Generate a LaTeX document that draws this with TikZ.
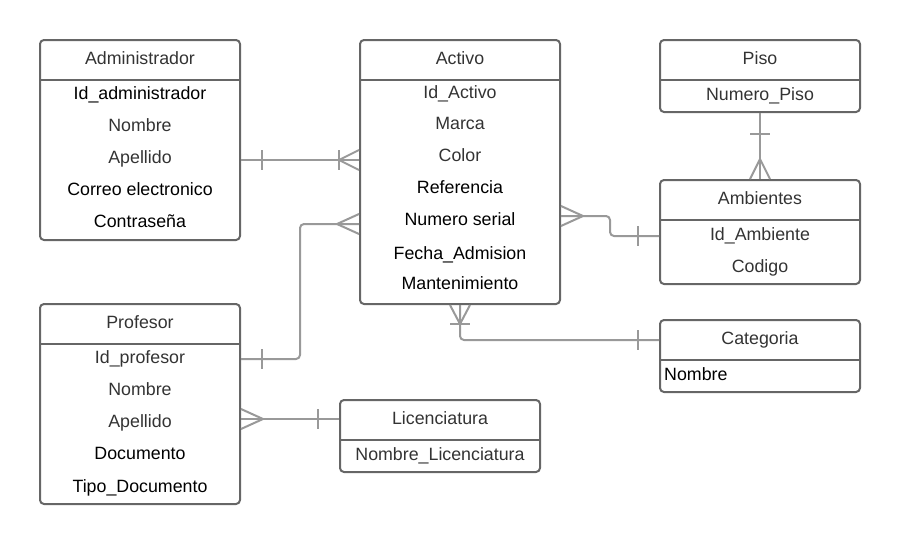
\documentclass[tikz,border=0pt]{standalone}
\usepackage{fontspec}
\setmainfont{Liberation Sans}
\definecolor{boxgray}{HTML}{666666}
\definecolor{linegray}{HTML}{999999}
\definecolor{txtgray}{HTML}{333333}

\begin{document}
\begin{tikzpicture}[x=1pt,y=-1pt,
    entity/.style={draw=boxgray, line width=2pt, rounded corners=4pt, minimum width=200pt, inner sep=0pt},
    sep/.style={draw=boxgray, line width=2pt},
    attr/.style={text=txtgray, font=\fontsize{17.8}{20}\selectfont, text height=13pt, text depth=0pt, inner sep=0pt},
    key/.style={attr, text=black},
    rel/.style={draw=linegray, line width=2pt, rounded corners=4pt},
    relmark/.style={draw=linegray, line width=2pt}]
  \useasboundingbox (0,0) rectangle (900,544);

    \node[entity, minimum height=200pt] (admin) at (140,140) {};
    \draw[sep] (40,80) -- (240,80);
    \node[attr] (admin-t) at (140,58) {Administrador};
    \node[key] (admin-1) at (140,93) {Id\_administrador};
    \node[attr] (admin-2) at (140,125) {Nombre};
    \node[attr] (admin-3) at (140,157) {Apellido};
    \node[key] (admin-4) at (140,189) {Correo electronico};
    \node[key] (admin-5) at (140,221) {Contraseña};

    \node[entity, minimum height=264pt] (activo) at (460,172) {};
    \draw[sep] (360,80) -- (560,80);
    \node[attr] (activo-t) at (460,58) {Activo};
    \node[attr] (activo-1) at (460,92) {Id\_Activo};
    \node[attr] (activo-2) at (460,123) {Marca};
    \node[attr] (activo-3) at (460,155) {Color};
    \node[key] (activo-4) at (460,187) {Referencia};
    \node[key] (activo-5) at (460,219) {Numero serial};
    \node[key] (activo-6) at (460,253) {Fecha\_Admision};
    \node[key] (activo-7) at (460,283) {Mantenimiento};

    \node[entity, minimum height=72pt] (piso) at (760,76) {};
    \draw[sep] (660,80) -- (860,80);
    \node[attr] (piso-t) at (760,58) {Piso};
    \node[attr] (piso-1) at (760,94) {Numero\_Piso};

    \node[entity, minimum height=104pt] (ambientes) at (760,232) {};
    \draw[sep] (660,220) -- (860,220);
    \node[attr] (ambientes-t) at (760,198) {Ambientes};
    \node[attr] (ambientes-1) at (760,234) {Id\_Ambiente};
    \node[attr] (ambientes-2) at (760,266) {Codigo};

    \node[entity, minimum height=200pt] (profesor) at (140,404) {};
    \draw[sep] (40,344) -- (240,344);
    \node[attr] (profesor-t) at (140,322) {Profesor};
    \node[attr] (profesor-1) at (140,357) {Id\_profesor};
    \node[attr] (profesor-2) at (140,389) {Nombre};
    \node[attr] (profesor-3) at (140,421) {Apellido};
    \node[key] (profesor-4) at (140,453) {Documento};
    \node[key] (profesor-5) at (140,486) {Tipo\_Documento};

    \node[entity, minimum height=72pt] (licenciatura) at (440,436) {};
    \draw[sep] (340,440) -- (540,440);
    \node[attr] (licenciatura-t) at (440,418) {Licenciatura};
    \node[attr] (licenciatura-1) at (440,454) {Nombre\_Licenciatura};

    \node[entity, minimum height=72pt] (categoria) at (760,356) {};
    \draw[sep] (660,360) -- (860,360);
    \node[attr] (categoria-t) at (760,338) {Categoria};
    \node[key, anchor=west] (categoria-1) at (664,374) {Nombre};

    \draw[rel] (admin.east |- 0,160) coordinate (r1a) -- (activo.west |- 0,160) coordinate (r1b);
    \draw[relmark] ([xshift=21pt,yshift=10pt]r1a) -- ([xshift=21pt,yshift=-10pt]r1a);
    \draw[relmark] ([yshift=10pt]r1b) -- ([xshift=-20pt]r1b) -- ([yshift=-10pt]r1b);
    \draw[relmark] ([xshift=-20pt,yshift=10pt]r1b) -- ([xshift=-20pt,yshift=-10pt]r1b);

    \draw[rel] (profesor.east |- 0,359) coordinate (r2a) -- (300,359) -- (300,224) -- (activo.west |- 0,224) coordinate (r2b);
    \draw[relmark] ([xshift=21pt,yshift=10pt]r2a) -- ([xshift=21pt,yshift=-10pt]r2a);
    \draw[relmark] ([yshift=10pt]r2b) -- ([xshift=-22pt]r2b) -- ([yshift=-10pt]r2b);

    \draw[rel] (activo.east |- 0,216) coordinate (r3a) -- (610,216) -- (610,236) -- (ambientes.west |- 0,236) coordinate (r3b);
    \draw[relmark] ([yshift=10pt]r3a) -- ([xshift=22pt]r3a) -- ([yshift=-10pt]r3a);
    \draw[relmark] ([xshift=-21pt,yshift=10pt]r3b) -- ([xshift=-21pt,yshift=-10pt]r3b);

    \draw[rel] (piso.south) coordinate (r4a) -- (ambientes.north) coordinate (r4b);
    \draw[relmark] ([xshift=-10pt,yshift=-21pt]r4a) -- ([xshift=10pt,yshift=-21pt]r4a);
    \draw[relmark] ([xshift=-10pt]r4b) -- ([yshift=20pt]r4b) -- ([xshift=10pt]r4b);

    \draw[rel] (activo.south) coordinate (r5a) -- (460,340) -- (categoria.west |- 0,340) coordinate (r5b);
    \draw[relmark] ([xshift=-10pt]r5a) -- ([yshift=-19pt]r5a) -- ([xshift=10pt]r5a);
    \draw[relmark] ([xshift=-10pt,yshift=-19pt]r5a) -- ([xshift=10pt,yshift=-19pt]r5a);
    \draw[relmark] ([xshift=-21pt,yshift=10pt]r5b) -- ([xshift=-21pt,yshift=-10pt]r5b);

    \draw[rel] (profesor.east |- 0,419) coordinate (r6a) -- (licenciatura.west |- 0,419) coordinate (r6b);
    \draw[relmark] ([yshift=10pt]r6a) -- ([xshift=22pt]r6a) -- ([yshift=-10pt]r6a);
    \draw[relmark] ([xshift=-21pt,yshift=10pt]r6b) -- ([xshift=-21pt,yshift=-10pt]r6b);
  \end{tikzpicture}
\end{document}
